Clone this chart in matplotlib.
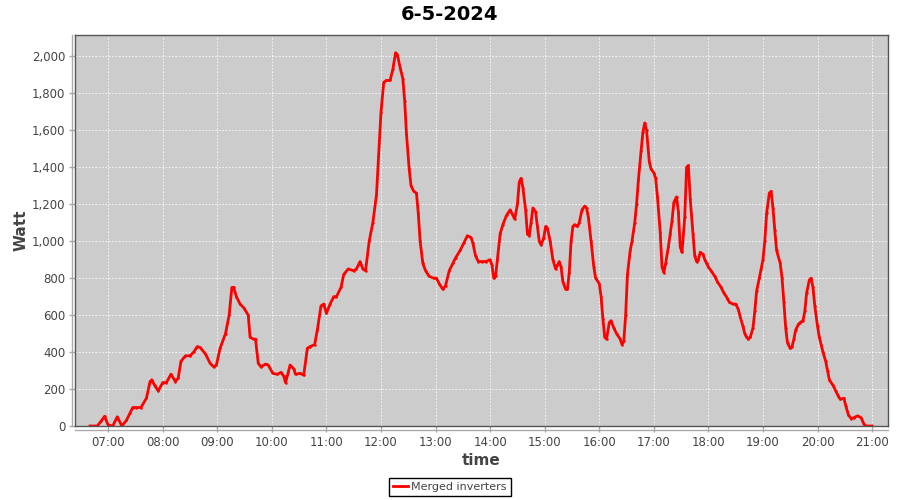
import pandas as pd
import matplotlib.pyplot as plt
import matplotlib.dates as mdates
from matplotlib.ticker import FuncFormatter, MultipleLocator
from matplotlib.lines import Line2D

# Plot configuration
plt.rcParams['font.family'] = ['DejaVu Sans']

# Data: time of day and merged inverter power (W)
DAY = '2024-05-06'
times = [
    '06:40', '06:48', '06:52', '06:56', '07:00', '07:05', '07:10', '07:15',
    '07:20', '07:24', '07:27', '07:31', '07:36', '07:42', '07:46', '07:48',
    '07:51', '07:55', '08:00', '08:04', '08:09', '08:14', '08:17', '08:20',
    '08:25', '08:30', '08:34', '08:38', '08:41', '08:47', '08:52', '08:56',
    '08:59', '09:03', '09:09', '09:13', '09:16', '09:18', '09:21', '09:25',
    '09:29', '09:34', '09:36', '09:40', '09:42', '09:45', '09:48', '09:53',
    '09:56', '10:01', '10:06', '10:10', '10:13', '10:15', '10:18', '10:20',
    '10:24', '10:26', '10:31', '10:35', '10:39', '10:42', '10:47', '10:50',
    '10:54', '10:57', '11:00', '11:04', '11:08', '11:11', '11:16', '11:19',
    '11:24', '11:30', '11:33', '11:37', '11:40', '11:43', '11:47', '11:51',
    '11:55', '12:00', '12:03', '12:06', '12:10', '12:13', '12:16', '12:18',
    '12:21', '12:24', '12:26', '12:28', '12:31', '12:33', '12:36', '12:39',
    '12:41', '12:43', '12:46', '12:49', '12:53', '12:58', '13:01', '13:04',
    '13:08', '13:11', '13:15', '13:19', '13:22', '13:27', '13:31', '13:35',
    '13:39', '13:41', '13:44', '13:47', '13:51', '13:55', '14:00', '14:02',
    '14:04', '14:06', '14:08', '14:11', '14:14', '14:18', '14:22', '14:25',
    '14:27', '14:30', '14:32', '14:34', '14:36', '14:39', '14:41', '14:43',
    '14:45', '14:47', '14:50', '14:52', '14:54', '14:56', '14:59', '15:01',
    '15:03', '15:06', '15:09', '15:12', '15:14', '15:16', '15:18', '15:20',
    '15:23', '15:25', '15:27', '15:29', '15:31', '15:33', '15:36', '15:38',
    '15:41', '15:44', '15:46', '15:48', '15:51', '15:54', '15:56', '16:00',
    '16:02', '16:04', '16:06', '16:08', '16:11', '16:13', '16:16', '16:19',
    '16:23', '16:25', '16:27', '16:29', '16:31', '16:34', '16:36', '16:39',
    '16:41', '16:43', '16:46', '16:48', '16:50', '16:52', '16:55', '16:57',
    '17:00', '17:02', '17:04', '17:07', '17:09', '17:11', '17:13', '17:16',
    '17:18', '17:20', '17:22', '17:25', '17:27', '17:29', '17:31', '17:34',
    '17:36', '17:38', '17:40', '17:43', '17:45', '17:47', '17:49', '17:51',
    '17:54', '17:56', '17:58', '18:00', '18:03', '18:07', '18:10', '18:14',
    '18:17', '18:21', '18:23', '18:27', '18:30', '18:33', '18:35', '18:38',
    '18:40', '18:42', '18:44', '18:46', '18:49', '18:51', '18:53', '18:56',
    '18:58', '19:00', '19:02', '19:04', '19:07', '19:09', '19:11', '19:13',
    '19:15', '19:19', '19:21', '19:23', '19:25', '19:27', '19:30', '19:32',
    '19:34', '19:36', '19:39', '19:41', '19:44', '19:46', '19:48', '19:51',
    '19:53', '19:55', '19:57', '20:00', '20:02', '20:04', '20:06', '20:09',
    '20:11', '20:13', '20:17', '20:20', '20:23', '20:25', '20:29', '20:31',
    '20:34', '20:37', '20:40', '20:44', '20:48', '20:51', '20:53', '20:57',
    '21:00',
]
watts = [
    0, 0, 25, 52, 5, 0, 50, 0,
    30, 70, 100, 100, 100, 150, 240, 250,
    220, 190, 235, 235, 280, 240, 260, 350,
    380, 380, 400, 430, 425, 390, 340, 320,
    330, 420, 500, 600, 750, 750, 700, 660,
    640, 600, 480, 470, 470, 340, 320, 335,
    330, 285, 280, 290, 270, 235, 290, 330,
    310, 280, 285, 275, 420, 430, 440, 520,
    650, 660, 610, 660, 700, 700, 750, 820,
    850, 840, 850, 890, 850, 840, 1000, 1100,
    1250, 1700, 1860, 1870, 1870, 1930, 2020, 2010,
    1940, 1880, 1760, 1580, 1390, 1300, 1270, 1260,
    1150, 1000, 880, 840, 810, 800, 800, 770,
    740, 760, 840, 880, 910, 950, 990, 1030,
    1020, 990, 920, 890, 890, 890, 900, 870,
    800, 810, 900, 1040, 1090, 1140, 1170, 1140,
    1120, 1200, 1320, 1340, 1290, 1170, 1040, 1030,
    1100, 1180, 1160, 1080, 1000, 980, 1020, 1080,
    1070, 1000, 900, 850, 870, 890, 860, 780,
    740, 740, 830, 1000, 1080, 1090, 1080, 1100,
    1170, 1190, 1180, 1130, 1000, 860, 800, 770,
    700, 580, 480, 470, 560, 570, 530, 500,
    470, 440, 460, 600, 820, 950, 1000, 1100,
    1200, 1330, 1490, 1590, 1640, 1600, 1430, 1390,
    1370, 1340, 1240, 1050, 860, 830, 880, 970,
    1040, 1110, 1210, 1240, 1160, 970, 940, 1130,
    1400, 1410, 1230, 1040, 920, 890, 900, 940,
    930, 900, 880, 860, 840, 810, 780, 750,
    720, 690, 670, 660, 660, 630, 590, 540,
    500, 480, 470, 480, 530, 620, 730, 800,
    850, 900, 1000, 1150, 1260, 1270, 1180, 1060,
    950, 880, 800, 670, 530, 450, 420, 430,
    470, 520, 550, 560, 570, 620, 720, 790,
    800, 750, 650, 540, 480, 440, 400, 350,
    300, 250, 220, 190, 160, 145, 150, 110,
    60, 40, 45, 55, 45, 10, 0, 0,
    0,
]
SERIES = 'Merged inverters'
TITLE = '6-5-2024'


def make_plot():
    df = pd.DataFrame({'time': pd.to_datetime([f'{DAY} {t}' for t in times]),
                       'watt': watts})

    fig = plt.figure(figsize=(9, 5), dpi=100)
    ax = fig.add_axes([75 / 900, 1 - 426 / 500, 813 / 900, 391 / 500])
    ax.set_facecolor('#cccccc')

    ax.plot(df['time'], df['watt'], color='#ff0000', lw=2, marker='o',
            markersize=0.8, label=SERIES)

    ax.set_xlim(pd.Timestamp(f'{DAY} 06:23:30'), pd.Timestamp(f'{DAY} 21:17:30'))
    ax.set_ylim(0, 2116)
    ax.xaxis.set_major_locator(mdates.HourLocator(byhour=range(7, 22)))
    ax.xaxis.set_major_formatter(mdates.DateFormatter('%H:%M'))
    ax.yaxis.set_major_locator(MultipleLocator(200))
    ax.yaxis.set_major_formatter(FuncFormatter(lambda v, p: f'{int(v):,}'))

    ax.grid(True, color='white', linestyle=(0, (2, 2)), linewidth=0.6, alpha=0.9)
    ax.set_axisbelow(True)
    for s in ax.spines.values():
        s.set_color('#555555')
        s.set_linewidth(1)
    ax.tick_params(axis='both', colors='#aaaaaa', labelcolor='#444444',
                   labelsize=8.5, length=4, width=1, pad=3)

    # Separate axis lines, slightly offset from the plot frame
    fig.add_artist(Line2D([72 / 900, 72 / 900], [1 - 426 / 500, 1 - 35 / 500],
                          color='#aaaaaa', lw=1))
    fig.add_artist(Line2D([75 / 900, 888 / 900], [1 - 430 / 500, 1 - 430 / 500],
                          color='#aaaaaa', lw=1))

    ax.set_xlabel('time', fontsize=11, fontweight='bold', color='#444444', labelpad=3)
    ax.set_ylabel('Watt', fontsize=11, fontweight='bold', color='#444444', labelpad=2)
    fig.text(0.5, 1 - 14 / 500, TITLE, ha='center', va='center',
             fontsize=14, fontweight='bold')

    leg = fig.legend(loc='center', bbox_to_anchor=(0.5, 1 - 487 / 500),
                     fontsize=8, fancybox=False, framealpha=1,
                     edgecolor='black', handlelength=1.3, borderpad=0.4,
                     handletextpad=0.3, borderaxespad=0)
    leg.get_frame().set_linewidth(1)
    for t in leg.get_texts():
        t.set_color('#444444')

    fig.savefig('out.png', dpi=100)


if __name__ == '__main__':
    make_plot()
